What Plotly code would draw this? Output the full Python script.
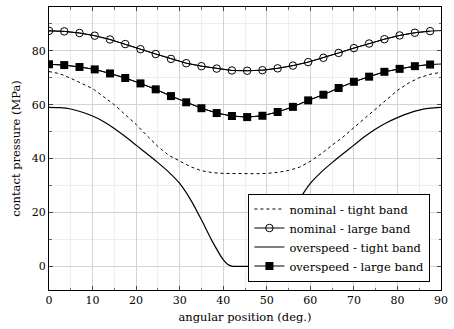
import plotly.graph_objects as go

# ---- data ----
angle_large = [0, 3.5, 7, 10.5, 14, 17.5, 21, 24.5, 28, 31.5, 35, 38.5, 42, 45.5,
               49, 52.5, 56, 59.5, 63, 66.5, 70, 73.5, 77, 80.5, 84, 87.5, 90]
nominal_large = [87.4, 87.2, 86.6, 85.6, 84.2, 82.5, 80.6, 78.8, 77.0, 75.4, 74.3, 73.4, 72.7, 72.6,
                 72.8, 73.5, 74.5, 75.8, 77.4, 79.2, 81.0, 82.7, 84.3, 85.7, 86.7, 87.3, 87.5]
overspeed_large = [75.0, 74.7, 74.0, 73.1, 71.6, 69.9, 67.9, 65.7, 63.2, 60.9, 58.7, 56.9, 55.8, 55.4,
                   55.9, 57.3, 59.2, 61.6, 63.7, 66.2, 68.5, 70.4, 72.2, 73.3, 74.3, 74.9, 75.1]

angle_tight = [0, 2.5, 5, 7.5, 10, 12.5, 15, 17.5, 20, 22.5, 25, 27.5, 30, 32.5, 35, 37.5,
               40, 42.5, 45, 47.5, 50, 52.5, 55, 57.5, 60, 62.5, 65, 67.5, 70, 72.5, 75,
               77.5, 80, 82.5, 85, 87.5, 90]
nominal_tight = [72.3, 71.5, 69.8, 68.0, 66.0, 63.0, 60.0, 56.3, 52.7, 48.5, 44.5, 41.2, 39.0, 37.0, 35.5, 34.8,
                 34.5, 34.4, 34.4, 34.4, 34.5, 34.9, 35.6, 36.8, 39.0, 41.8, 45.0, 48.0, 51.5, 55.0, 58.5,
                 62.0, 65.3, 68.0, 70.0, 71.3, 72.0]

angle_over = [0, 2.5, 5, 7.5, 10, 12.5, 15, 17.5, 20, 22.5, 25, 27.5, 30, 32.5, 35, 37.5,
              40, 41, 42, 43, 45, 47, 48, 49, 50, 52.5, 55, 57.5, 60, 62.5, 65, 67.5, 70,
              72.5, 75, 77.5, 80, 82.5, 85, 87.5, 90]
overspeed_tight = [59.0, 58.9, 58.4, 57.3, 55.8, 53.8, 51.2, 48.2, 45.0, 41.8, 38.5, 35.0, 30.8, 24.8, 17.3, 9.3,
                   2.5, 0.8, 0.1, 0.0, 0.0, 0.0, 0.1, 0.8, 2.5, 9.3, 17.3, 24.8, 30.8, 35.0, 38.5, 41.8, 45.0,
                   48.2, 51.0, 53.3, 55.2, 56.8, 58.0, 58.7, 59.0]

x_ticks = [0, 10, 20, 30, 40, 50, 60, 70, 80, 90]
y_ticks = [0, 20, 40, 60, 80]

FONT = "DejaVu Serif"
FS = 11.5
FT = 11

fig = go.Figure()

fig.add_trace(go.Scatter(x=angle_tight, y=nominal_tight, mode="lines", name="nominal - tight band",
                         line=dict(color="black", width=1, dash="3px,3px")))
fig.add_trace(go.Scatter(x=angle_large, y=nominal_large, mode="lines", showlegend=False,
                         line=dict(color="black", width=1), hoverinfo="skip"))
fig.add_trace(go.Scatter(x=angle_large[:-1], y=nominal_large[:-1], mode="lines+markers",
                         name="nominal - large band",
                         line=dict(color="black", width=1),
                         marker=dict(symbol="circle-open", size=7.5, color="black", line=dict(width=1))))
fig.add_trace(go.Scatter(x=angle_over, y=overspeed_tight, mode="lines", name="overspeed - tight band",
                         line=dict(color="black", width=1.2, shape="spline", smoothing=0.5)))
fig.add_trace(go.Scatter(x=angle_large, y=overspeed_large, mode="lines", showlegend=False,
                         line=dict(color="black", width=1), hoverinfo="skip"))
fig.add_trace(go.Scatter(x=angle_large[:-1], y=overspeed_large[:-1], mode="lines+markers",
                         name="overspeed - large band",
                         line=dict(color="black", width=1),
                         marker=dict(symbol="square", size=8, color="black")))

axis_common = dict(
    showline=True, linecolor="black", linewidth=1, mirror="ticks",
    ticks="inside", ticklen=4, tickcolor="#444", tickwidth=1,
    showgrid=True, gridcolor="#d3d3d3", gridwidth=1, zeroline=False,
    tickfont=dict(family=FONT, size=FT, color="black"),
)

fig.update_xaxes(range=[0, 90], tickvals=x_ticks,
                 minor=dict(dtick=5, showgrid=True, gridcolor="#eeeeee", ticks="inside",
                            ticklen=2.5, tickcolor="#666"),
                 title=dict(text="angular position (deg.)", font=dict(family=FONT, size=FS, color="black"),
                            standoff=6),
                 **axis_common)
fig.update_yaxes(range=[-8.75, 96.25], tickvals=y_ticks,
                 minor=dict(dtick=10, tick0=0, showgrid=True, gridcolor="#eeeeee", ticks="inside",
                            ticklen=2.5, tickcolor="#666"),
                 title=dict(text="contact pressure (MPa)", font=dict(family=FONT, size=FS, color="black"),
                            standoff=8),
                 **axis_common)

fig.update_layout(
    width=454, height=329,
    margin=dict(l=49, r=7, t=6, b=39),
    paper_bgcolor="white", plot_bgcolor="white",
    font=dict(family=FONT, size=FS, color="black"),
    legend=dict(x=0.973, y=0.03, xanchor="right", yanchor="bottom",
                bgcolor="white", bordercolor="black", borderwidth=1,
                font=dict(family=FONT, size=FS, color="black"),
                itemwidth=30, tracegroupgap=0),
    showlegend=True,
)

fig.write_html("out.html")
